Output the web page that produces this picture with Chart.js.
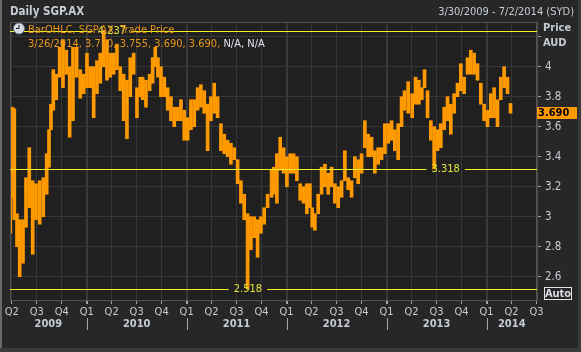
<!DOCTYPE html>
<html>
<head>
<meta charset="utf-8">
<title>Daily SGP.AX</title>
<script src="https://cdn.jsdelivr.net/npm/chart.js@4/dist/chart.umd.min.js"></script>
<style>
    html, body { margin: 0; padding: 0; background: #3b3b3b; }
    canvas { display: block; }
</style>
</head>
<body>
<canvas id="chart" width="581" height="352"></canvas>
<script>
// data (dates as fractional years, one bar = high/low of a short period)
var dates = [
    2009.236, 2009.256, 2009.276, 2009.303, 2009.330, 2009.363, 2009.393, 2009.426, 2009.460, 2009.493,
    2009.530, 2009.566, 2009.600, 2009.623, 2009.643, 2009.666, 2009.696, 2009.730, 2009.763, 2009.796,
    2009.830, 2009.863, 2009.900, 2009.936, 2009.970, 2010.003, 2010.036, 2010.070, 2010.103, 2010.136,
    2010.170, 2010.203, 2010.236, 2010.270, 2010.303, 2010.336, 2010.370, 2010.403, 2010.436, 2010.470,
    2010.503, 2010.536,
    2010.560, 2010.593, 2010.630, 2010.660, 2010.686, 2010.713, 2010.743, 2010.776, 2010.810, 2010.843,
    2010.876, 2010.910, 2010.943, 2010.976, 2011.010, 2011.043, 2011.076, 2011.110, 2011.143, 2011.176,
    2011.210, 2011.243, 2011.276, 2011.310, 2011.343, 2011.376, 2011.410, 2011.443, 2011.476, 2011.510,
    2011.543, 2011.576, 2011.610, 2011.643, 2011.676, 2011.710, 2011.743, 2011.776, 2011.810, 2011.850,
    2011.870, 2011.903, 2011.936, 2011.970, 2012.003, 2012.036, 2012.070, 2012.103, 2012.136, 2012.170,
    2012.203, 2012.233, 2012.256, 2012.283, 2012.316, 2012.350, 2012.383, 2012.416, 2012.450, 2012.483,
    2012.516, 2012.550, 2012.583, 2012.616, 2012.650, 2012.683, 2012.716, 2012.750, 2012.783, 2012.816,
    2012.850, 2012.883, 2012.916, 2012.950, 2012.983, 2013.016, 2013.050, 2013.083, 2013.116, 2013.150,
    2013.180,
    2013.216, 2013.256, 2013.290, 2013.323, 2013.353, 2013.380, 2013.410, 2013.443, 2013.476, 2013.510,
    2013.543, 2013.576, 2013.610, 2013.643, 2013.676, 2013.710, 2013.743, 2013.776, 2013.810, 2013.843,
    2013.876, 2013.910, 2013.943, 2013.976, 2014.010, 2014.043, 2014.076, 2014.110, 2014.143, 2014.176,
    2014.210, 2014.240
];

var highs = [
    3.33, 3.73, 3.72, 3.02, 2.98, 2.98, 3.26, 3.46, 3.24, 3.22,
    3.24, 3.26, 3.42, 3.58, 3.75, 3.98, 3.95, 4.13, 4.18, 4.11,
    4.00, 4.13, 4.13, 3.98, 3.95, 4.09, 4.00, 4.00, 4.04, 4.09,
    4.237, 4.18, 4.09, 4.09, 4.15, 4.00, 3.95, 3.91, 4.06, 4.09,
    3.86, 3.93,
    3.93, 3.91, 3.95, 4.06, 4.13, 4.06, 4.00, 3.93, 3.86, 3.80,
    3.73, 3.73, 3.78, 3.71, 3.66, 3.78, 3.78, 3.86, 3.88, 3.84,
    3.75, 3.80, 3.89, 3.80, 3.62, 3.55, 3.51, 3.49, 3.46, 3.38,
    3.24, 3.15, 3.02, 3.00, 3.00, 2.98, 3.00, 3.06, 3.15, 3.31,
    3.33, 3.42, 3.53, 3.46, 3.40, 3.42, 3.42, 3.40, 3.22, 3.20,
    3.22, 3.22, 3.06, 3.02, 3.15, 3.33, 3.35, 3.29, 3.33, 3.22,
    3.20, 3.24, 3.44, 3.26, 3.24, 3.40, 3.38, 3.42, 3.64, 3.55,
    3.53, 3.44, 3.46, 3.46, 3.62, 3.62, 3.64, 3.58, 3.62, 3.80,
    3.84,
    3.90, 3.82, 3.93, 3.91, 3.86, 3.98, 3.84, 3.64, 3.60, 3.58,
    3.62, 3.73, 3.80, 3.75, 3.82, 3.89, 4.02, 3.93, 4.06, 4.11,
    4.09, 4.02, 3.89, 3.75, 3.71, 3.82, 3.86, 3.78, 3.93, 4.00,
    3.93, 3.755
];

var lows = [
    2.89, 3.13, 2.98, 2.80, 2.60, 2.69, 2.93, 3.06, 2.75, 2.98,
    2.95, 3.00, 3.15, 3.33, 3.58, 3.71, 3.78, 3.93, 3.86, 3.95,
    3.53, 3.64, 3.93, 3.79, 3.82, 3.86, 3.86, 3.66, 3.82, 3.89,
    4.00, 3.91, 3.93, 3.95, 3.98, 3.84, 3.64, 3.52, 3.80, 3.95,
    3.66, 3.80,
    3.78, 3.73, 3.84, 3.89, 4.00, 3.93, 3.80, 3.80, 3.71, 3.64,
    3.60, 3.64, 3.64, 3.51, 3.51, 3.58, 3.60, 3.71, 3.73, 3.69,
    3.44, 3.64, 3.69, 3.66, 3.44, 3.42, 3.40, 3.35, 3.38, 3.22,
    3.09, 2.98, 2.518, 2.78, 2.86, 2.73, 2.89, 2.95, 3.06, 3.13,
    3.15, 3.09, 3.31, 3.29, 3.20, 3.29, 3.29, 3.24, 3.11, 3.09,
    3.02, 3.06, 2.93, 2.91, 3.02, 3.15, 3.20, 3.15, 3.20, 3.09,
    3.06, 3.13, 3.24, 3.18, 3.13, 3.26, 3.22, 3.29, 3.46, 3.40,
    3.40, 3.29, 3.35, 3.38, 3.42, 3.49, 3.51, 3.44, 3.38, 3.60,
    3.71,
    3.69, 3.66, 3.75, 3.75, 3.78, 3.86, 3.66, 3.51, 3.318, 3.44,
    3.46, 3.58, 3.64, 3.55, 3.69, 3.80, 3.84, 3.82, 3.95, 3.95,
    3.95, 3.91, 3.75, 3.64, 3.60, 3.66, 3.66, 3.60, 3.78, 3.86,
    3.82, 3.69
];

// last bar readout and close
var lastBar = ['3/26/2014', '3.710', '3.755', '3.690', '3.690'];
var lastClose = 3.690;

// high / low / recent low markers (value and where its label sits)
var markValues = [4.237, 3.318, 2.518];
var markDates = [2010.253, 2013.591, 2011.613];

// axis labels
var quarterNames = ['Q1', 'Q2', 'Q3', 'Q4'];
var years = [2009, 2010, 2011, 2012, 2013, 2014];
var dateRange = [2009.233, 2014.505];
var priceRange = [2.445, 4.298];

// styles
var FONT_FAMILY = "'DejaVu Sans Condensed', 'DejaVu Sans', sans-serif";
var ORANGE = '#ff9900';
var YELLOW = '#f2f21c';
var TEXT = '#c6ccd4';
var GRID = '#363636';

// helpers
var qs = function (selector) {
    return document.querySelector(selector);
};

var isYearStart = function (value) {
    return Math.abs(value - Math.round(value)) < 1e-6;
};

var font = function (size, bold) {
    return (bold ? 'bold ' : '') + size + 'px ' + FONT_FAMILY;
};

// everything around the plot that is not an axis
var decorations = {
    id: 'decorations',

    beforeDraw: function (chart) {
        var ctx = chart.ctx;
        var area = chart.chartArea;

        ctx.save();
        ctx.fillStyle = '#3b3b3b';
        ctx.fillRect(0, 0, chart.width, chart.height);
        ctx.fillStyle = '#272727';
        ctx.fillRect(0, 0, 578, 348);
        ctx.fillStyle = '#6b6b6b';
        ctx.fillRect(0, 0, 2, 348);
        ctx.fillStyle = '#202020';
        ctx.fillRect(area.left, area.top, area.right - area.left, area.bottom - area.top);
        ctx.restore();
    },

    afterDatasetsDraw: function (chart) {
        var ctx = chart.ctx;
        var area = chart.chartArea;
        var xScale = chart.scales.x;
        var yScale = chart.scales.y;

        ctx.save();

        // plot frame
        ctx.strokeStyle = '#505050';
        ctx.lineWidth = 1;
        ctx.strokeRect(area.left + 0.5, area.top + 0.5, area.right - area.left - 1, area.bottom - area.top);

        // yellow marker lines with their labels
        ctx.font = font(11);
        ctx.textAlign = 'center';
        ctx.textBaseline = 'middle';
        markValues.forEach(function (value, i) {
            var y = Math.round(yScale.getPixelForValue(value)) + 0.5;
            var cx = xScale.getPixelForValue(markDates[i]);
            var label = value.toFixed(3);
            var half = ctx.measureText(label).width / 2 + 5;

            ctx.strokeStyle = YELLOW;
            ctx.beginPath();
            ctx.moveTo(area.left, y);
            ctx.lineTo(cx - half, y);
            ctx.moveTo(cx + half, y);
            ctx.lineTo(area.right, y);
            ctx.stroke();

            ctx.fillStyle = '#e2e63c';
            ctx.fillText(label, cx, y);
        });

        // legend readout
        ctx.textAlign = 'left';
        ctx.fillStyle = '#d8dde4';
        ctx.beginPath();
        ctx.arc(19, 28.5, 5.5, 0, Math.PI * 2);
        ctx.fill();
        ctx.strokeStyle = '#6b7a8c';
        ctx.stroke();
        ctx.strokeStyle = '#111';
        ctx.beginPath();
        ctx.moveTo(19, 25);
        ctx.lineTo(19, 28.5);
        ctx.lineTo(16, 28.5);
        ctx.stroke();

        ctx.font = font(11);
        ctx.fillStyle = '#e8961c';
        ctx.fillText('BarOHLC, SGP.AX, Trade Price', 28, 30.5);
        var readout = lastBar.join(', ') + ', ';
        ctx.fillText(readout, 28, 44);
        ctx.fillStyle = '#dfe3ea';
        ctx.fillText('N/A, N/A', 28 + ctx.measureText(readout).width, 44);

        ctx.restore();
    },

    afterDraw: function (chart) {
        var ctx = chart.ctx;
        var area = chart.chartArea;
        var xScale = chart.scales.x;
        var yScale = chart.scales.y;

        ctx.save();
        ctx.textBaseline = 'middle';

        // header
        ctx.fillStyle = TEXT;
        ctx.font = font(11.5, true);
        ctx.textAlign = 'left';
        ctx.fillText('Daily SGP.AX', 10, 12);
        ctx.font = font(11);
        ctx.textAlign = 'right';
        ctx.fillText('3/30/2009 - 7/2/2014 (SYD)', 574, 12.5);

        // axis caption
        ctx.textAlign = 'left';
        ctx.font = font(11, true);
        ctx.fillText('Price', 543, 28);
        ctx.fillText('AUD', 543, 43);

        // last price tag
        var yTag = Math.round(yScale.getPixelForValue(lastClose));
        ctx.fillStyle = ORANGE;
        ctx.fillRect(area.right, yTag - 6, 40, 12);
        ctx.fillStyle = '#000';
        ctx.fillText(lastClose.toFixed(3), area.right + 1, yTag + 0.5);

        // auto button
        ctx.strokeStyle = '#e4e4e4';
        ctx.strokeRect(544.5, 287.5, 27, 12);
        ctx.fillStyle = '#d8dde4';
        ctx.textAlign = 'center';
        ctx.fillText('Auto', 558, 294);

        // year row under the quarters
        ctx.strokeStyle = '#a0a6ae';
        years.forEach(function (year) {
            var from = Math.max(year, xScale.min);
            var to = Math.min(year + 1, xScale.max);
            var cx = xScale.getPixelForValue((from + to) / 2);

            if (year > years[0]) {
                var sx = Math.round(xScale.getPixelForValue(year)) + 0.5;
                ctx.beginPath();
                ctx.moveTo(sx, 318);
                ctx.lineTo(sx, 330);
                ctx.stroke();
            }

            ctx.fillStyle = TEXT;
            ctx.fillText(String(year), cx, 324);
        });

        ctx.restore();
    }
};

var bars = dates.map(function (date, i) {
    return { x: date, y: [lows[i], highs[i]] };
});

window.chart = new Chart(qs('#chart'), {
    type: 'bar',
    data: {
        datasets: [{
            data: bars,
            backgroundColor: ORANGE,
            borderWidth: 0,
            barThickness: 3,
            grouped: false
        }]
    },
    options: {
        responsive: false,
        animation: false,
        layout: {
            padding: { left: 10, top: 22, right: 0, bottom: 0 }
        },
        plugins: {
            legend: { display: false },
            tooltip: { enabled: false }
        },
        scales: {
            x: {
                type: 'linear',
                min: dateRange[0],
                max: dateRange[1],
                offset: false,
                afterFit: function (scale) {
                    scale.height = 52;
                },
                ticks: {
                    stepSize: 0.25,
                    includeBounds: false,
                    autoSkip: false,
                    maxRotation: 0,
                    padding: 2,
                    color: TEXT,
                    font: { family: FONT_FAMILY, size: 11 },
                    callback: function (value) {
                        var q = Math.round((value - Math.floor(value + 1e-6)) * 4) % 4;
                        return quarterNames[q];
                    }
                },
                grid: {
                    offset: false,
                    color: function (ctx) {
                        return ctx.tick && isYearStart(ctx.tick.value) ? '#3a3a3a' : GRID;
                    },
                    lineWidth: function (ctx) {
                        return ctx.tick && isYearStart(ctx.tick.value) ? 2 : 1;
                    },
                    tickColor: '#a0a6ae',
                    tickLength: 4
                },
                border: { color: '#505050' }
            },
            y: {
                position: 'right',
                min: priceRange[0],
                max: priceRange[1],
                afterFit: function (scale) {
                    scale.width = 44;
                },
                ticks: {
                    stepSize: 0.2,
                    includeBounds: false,
                    padding: 4,
                    color: TEXT,
                    font: { family: FONT_FAMILY, size: 11.5 },
                    callback: function (value) {
                        // the caption sits where 4.2 would go
                        if (value > 4.1) {
                            return '';
                        }
                        return String(+value.toFixed(1));
                    }
                },
                grid: {
                    color: GRID,
                    tickColor: '#a0a6ae',
                    tickLength: 4
                },
                border: { color: '#505050' }
            }
        }
    },
    plugins: [decorations]
});
</script>
</body>
</html>
